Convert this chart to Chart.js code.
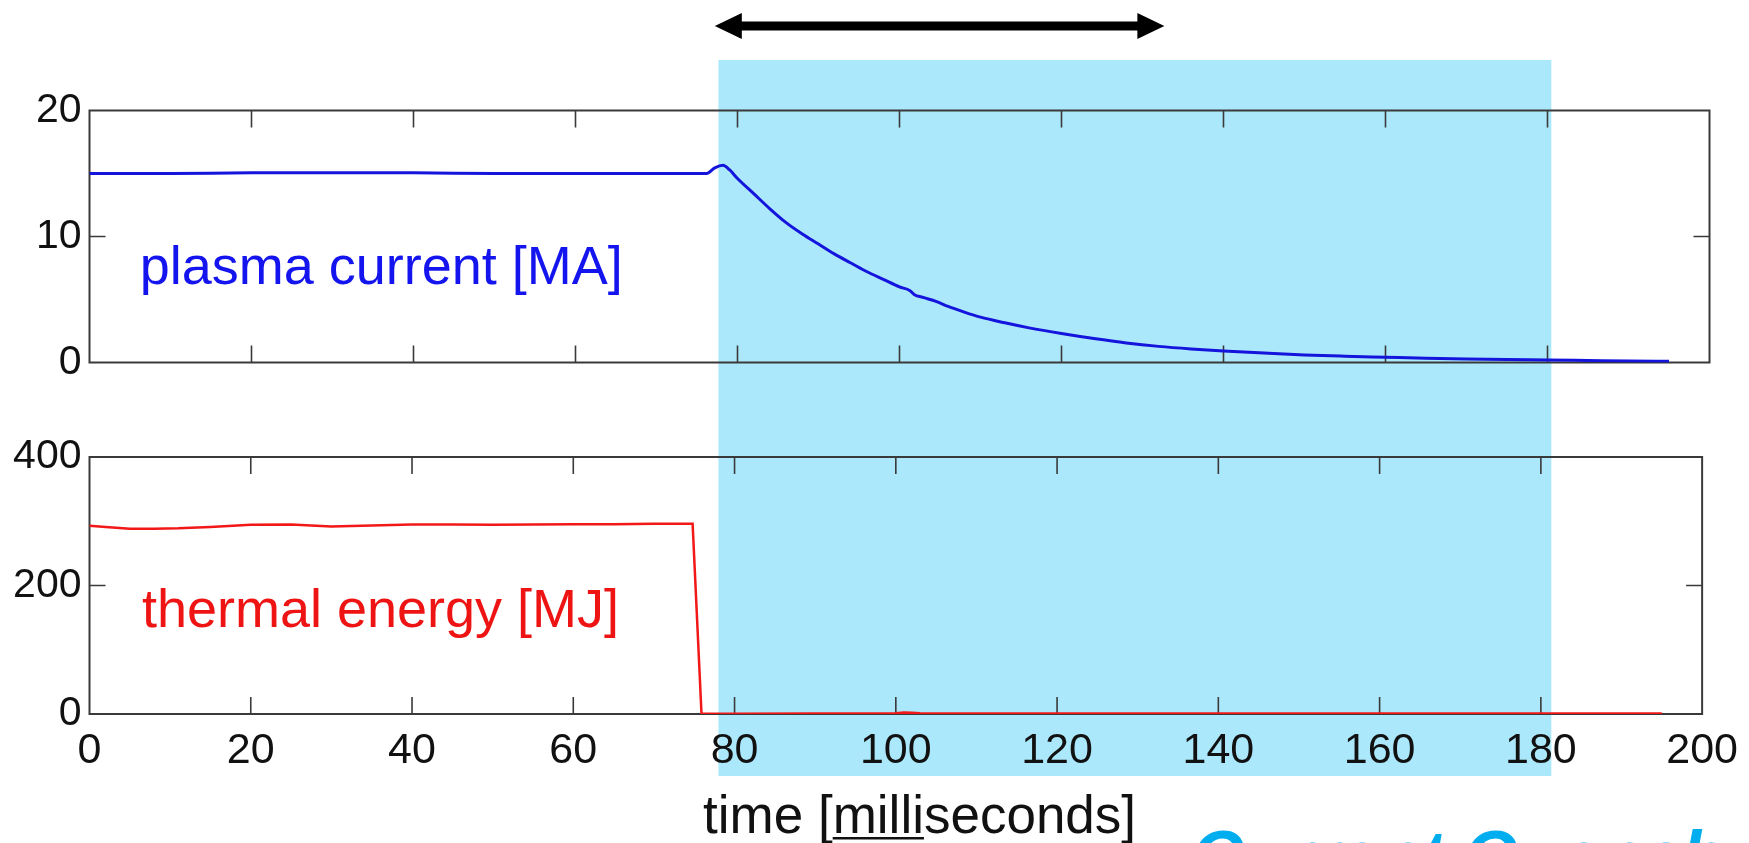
<!DOCTYPE html>
<html>
<head>
<meta charset="utf-8">
<script src="https://cdn.jsdelivr.net/npm/chart.js@4.4.1/dist/chart.umd.min.js"></script>
<style>
  html, body { margin: 0; padding: 0; background: #fff; overflow: hidden; }
  #wrap { position: relative; width: 1749px; height: 843px; }
  #wrap canvas { position: absolute; left: 0; top: 0; }
</style>
</head>
<body>
<div id="wrap">
  <canvas id="thermalChart" width="1749" height="843"></canvas>
  <canvas id="currentChart" width="1749" height="843"></canvas>
</div>
<script>
// time axis [ms]
const xTicks = [0, 20, 40, 60, 80, 100, 120, 140, 160, 180, 200];

// plasma current [MA]
const plasmaTime = [0, 10, 20, 30, 40, 50, 60, 70, 75, 76.2, 77.2, 78.2, 79, 80, 82, 84, 86, 88, 90, 92, 94, 96, 98, 100,
  101.3, 101.8, 103, 104.5, 106, 108, 110, 113, 116, 120, 124, 128, 132, 136, 140, 145, 150, 155, 160, 165, 170, 175, 180, 185, 190, 195];
const plasmaCurrent = [15.0, 15.0, 15.05, 15.05, 15.05, 15.0, 15.0, 15.0, 15.0, 15.0, 15.45, 15.65, 15.3, 14.6, 13.4, 12.2, 11.1, 10.2, 9.4, 8.6, 7.9, 7.2, 6.6, 6.0,
  5.7, 5.4, 5.15, 4.85, 4.45, 4.0, 3.6, 3.15, 2.75, 2.3, 1.9, 1.55, 1.28, 1.08, 0.92, 0.75, 0.6, 0.5, 0.42, 0.34, 0.28, 0.23, 0.2, 0.16, 0.12, 0.1];

// thermal energy [MJ]
const thermalTime = [0, 2, 5, 8, 11, 15, 20, 25, 30, 35, 40, 45, 50, 55, 60, 65, 70, 74.8, 75.9, 80, 90, 100, 101, 102, 103, 110, 130, 150, 170, 195];
const thermalEnergy = [293, 291, 288.5, 288.5, 289, 291, 294.5, 295, 292, 293.5, 295, 295, 294.5, 295, 295.5, 295.5, 296, 296, 0.5, 0.5, 0.8, 1, 2.5, 2, 1, 0.8, 0.8, 0.8, 0.8, 0.8];

// annotations (data units)
const shadeSpan = [78.0, 181.3];
const arrowSpan = [77.2, 132.7];
const currentLabelPos = [6.2, 6.2];
const thermalLabelPos = [6.5, 135];

const FONT = '"Liberation Sans", Arial, Helvetica, sans-serif';
Chart.defaults.font.family = FONT;
Chart.defaults.color = '#111';

function toXY(xs, ys) {
    return xs.map((t, i) => ({ x: t, y: ys[i] }));
}

// box + inward ticks on all four sides, like the original figure
const framePlugin = {
    id: 'frame',
    beforeDatasetsDraw(chart) {
        const { ctx, chartArea: a, scales: { x, y } } = chart;
        ctx.save();
        ctx.strokeStyle = '#3a3a3a';
        ctx.lineWidth = 1.6;
        ctx.beginPath();
        x.ticks.forEach(t => {
            if (t.value <= x.min || t.value >= x.max) return;
            const px = x.getPixelForValue(t.value);
            ctx.moveTo(px, a.top); ctx.lineTo(px, a.top + 17);
            ctx.moveTo(px, a.bottom); ctx.lineTo(px, a.bottom - 17);
        });
        y.ticks.forEach(t => {
            if (t.value <= y.min || t.value >= y.max) return;
            const py = y.getPixelForValue(t.value);
            ctx.moveTo(a.left, py); ctx.lineTo(a.left + 16, py);
            ctx.moveTo(a.right, py); ctx.lineTo(a.right - 16, py);
        });
        ctx.stroke();
        ctx.lineWidth = 2;
        ctx.strokeRect(a.left, a.top, a.right - a.left, a.bottom - a.top);
        ctx.restore();
    }
};

// light blue band over the current quench (drawn under everything)
const shadePlugin = {
    id: 'shade',
    beforeDraw(chart) {
        const { ctx, scales: { x } } = chart;
        const x0 = x.getPixelForValue(shadeSpan[0]);
        const x1 = x.getPixelForValue(shadeSpan[1]);
        ctx.save();
        ctx.fillStyle = '#ace8fc';
        ctx.fillRect(x0, 60, x1 - x0, 716);
        ctx.restore();
    }
};

const currentNotes = {
    id: 'currentNotes',
    afterDraw(chart) {
        const { ctx, scales: { x, y } } = chart;
        ctx.save();
        ctx.font = '54px ' + FONT;
        ctx.fillStyle = '#1414ee';
        ctx.textBaseline = 'alphabetic';
        ctx.fillText('plasma current [MA]', x.getPixelForValue(currentLabelPos[0]), y.getPixelForValue(currentLabelPos[1]));

        // double headed arrow
        const x0 = x.getPixelForValue(arrowSpan[0]);
        const x1 = x.getPixelForValue(arrowSpan[1]);
        const yc = 26, hl = 27, hh = 13, sh = 4.5;
        ctx.fillStyle = '#000';
        ctx.beginPath();
        ctx.moveTo(x0, yc);
        ctx.lineTo(x0 + hl, yc - hh);
        ctx.lineTo(x0 + hl, yc - sh);
        ctx.lineTo(x1 - hl, yc - sh);
        ctx.lineTo(x1 - hl, yc - hh);
        ctx.lineTo(x1, yc);
        ctx.lineTo(x1 - hl, yc + hh);
        ctx.lineTo(x1 - hl, yc + sh);
        ctx.lineTo(x0 + hl, yc + sh);
        ctx.lineTo(x0 + hl, yc + hh);
        ctx.closePath();
        ctx.fill();
        ctx.restore();
    }
};

const thermalNotes = {
    id: 'thermalNotes',
    afterDraw(chart) {
        const { ctx, chartArea: a, scales: { x, y } } = chart;
        ctx.save();
        ctx.textBaseline = 'alphabetic';
        ctx.font = '54px ' + FONT;
        ctx.fillStyle = '#ee1414';
        ctx.fillText('thermal energy [MJ]', x.getPixelForValue(thermalLabelPos[0]), y.getPixelForValue(thermalLabelPos[1]));

        // axis title with "milli" underlined
        ctx.font = '53px ' + FONT;
        ctx.fillStyle = '#111';
        const parts = ['time [', 'milli', 'seconds]'];
        let tx = x.getPixelForValue(76.1);
        const ty = a.bottom + 119;
        parts.forEach((p, i) => {
            const w = ctx.measureText(p).width;
            ctx.fillText(p, tx, ty);
            if (i === 1) {
                ctx.fillRect(tx, ty + 4, w, 2.5);
            }
            tx += w;
        });

        // big caption, mostly cut off by the bottom edge
        ctx.font = 'italic bold 70px ' + FONT;
        ctx.fillStyle = '#00aeef';
        ctx.fillText('Current Quench', x.getPixelForValue(136.7), a.bottom + 166);
        ctx.restore();
    }
};

function xAxis(showLabels, h) {
    return {
        type: 'linear', min: 0, max: 200,
        ticks: { stepSize: 20, display: showLabels, padding: 11, font: { size: 43 }, color: '#111', maxRotation: 0, autoSkip: false },
        grid: { display: false, drawTicks: false },
        border: { display: false },
        afterFit: s => { s.height = h; }
    };
}

function yAxis(max, step) {
    return {
        min: 0, max: max,
        ticks: { stepSize: step, padding: 8, font: { size: 41 }, color: '#111' },
        grid: { display: false, drawTicks: false },
        border: { display: false },
        afterFit: s => { s.width = 89.5; }
    };
}

// bottom panel (canvas underneath, also holds the shaded band)
new Chart(document.getElementById('thermalChart'), {
    type: 'line',
    data: {
        datasets: [{
            data: toXY(thermalTime, thermalEnergy),
            borderColor: '#f21818',
            borderWidth: 2.5,
            pointRadius: 0,
            tension: 0,
            fill: false
        }]
    },
    options: {
        responsive: false,
        animation: false,
        layout: { padding: { top: 457, right: 39.5, bottom: 0, left: 0 }, autoPadding: false },
        plugins: { legend: { display: false }, tooltip: { enabled: false } },
        scales: { x: xAxis(true, 129), y: yAxis(400, 200) }
    },
    plugins: [shadePlugin, framePlugin, thermalNotes]
});

// top panel
new Chart(document.getElementById('currentChart'), {
    type: 'line',
    data: {
        datasets: [{
            data: toXY(plasmaTime, plasmaCurrent),
            borderColor: '#1414dc',
            borderWidth: 3,
            pointRadius: 0,
            cubicInterpolationMode: 'monotone',
            fill: false
        }]
    },
    options: {
        responsive: false,
        animation: false,
        layout: { padding: { top: 110.5, right: 39.5, bottom: 480.5, left: 0 }, autoPadding: false },
        plugins: { legend: { display: false }, tooltip: { enabled: false } },
        scales: { x: xAxis(false, 0), y: yAxis(20, 10) }
    },
    plugins: [framePlugin, currentNotes]
});
</script>
</body>
</html>
